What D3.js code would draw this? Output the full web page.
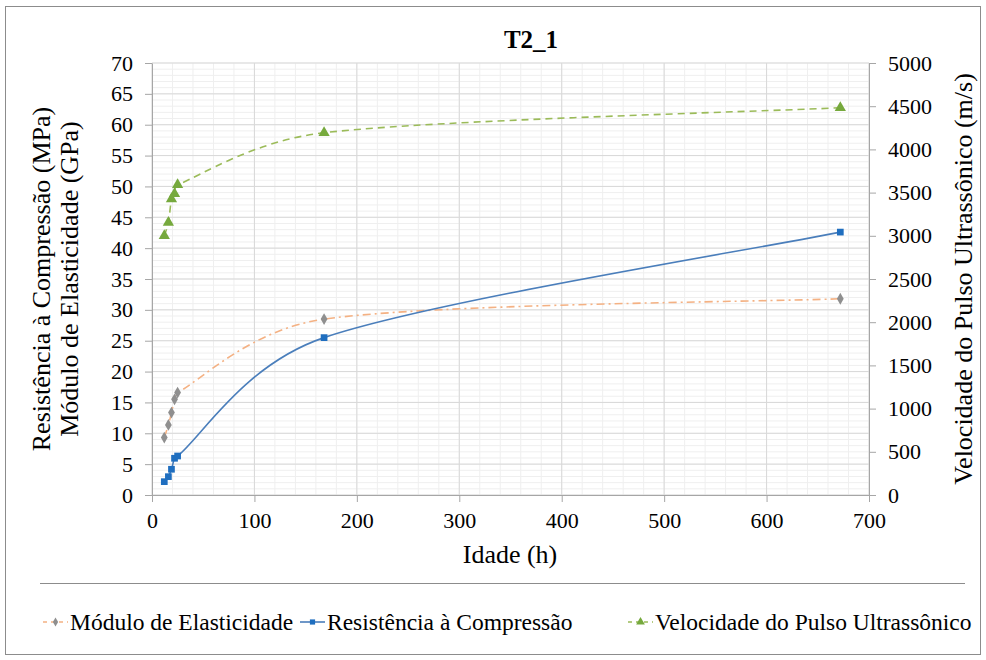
<!DOCTYPE html>
<html>
<head>
  <meta charset="utf-8">
  <script src="https://cdn.jsdelivr.net/npm/d3@7"></script>
  <style>
    @font-face { font-family: "ChartSerif"; src: local("Liberation Serif"), local("LiberationSerif"), local("Tinos"); }
    @font-face { font-family: "ChartSerif"; font-weight: bold; src: local("Liberation Serif Bold"), local("LiberationSerif-Bold"); }
  </style>
</head>
<body style="margin:0">
<script>
// dados
var idade = [12, 16, 19, 22, 25, 168, 672];
var modulo = [9.3, 11.35, 13.35, 15.5, 16.6, 28.5, 31.8];
var resistencia = [2.16, 2.97, 4.17, 5.95, 6.32, 25.5, 42.6];
var velocidade = [3000, 3154, 3425, 3486, 3590, 4193, 4482];

var xTicks = d3.range(0, 701, 100);
var yTicks = d3.range(0, 71, 5);
var y2Ticks = d3.range(0, 5001, 500);

var FONT = "'Times New Roman'";
var width = 986, height = 660;
var m = { left: 152, right: 869, top: 63, bottom: 495 };

var svg = d3.select("body").append("svg")
  .attr("width", width).attr("height", height);

// moldura
svg.append("rect")
  .attr("x", 5.5).attr("y", 6.5)
  .attr("width", 975).attr("height", 648)
  .attr("fill", "#fff").attr("stroke", "#8c8c8c");

var x = d3.scaleLinear().domain([0, 700]).range([m.left, m.right]);
var y = d3.scaleLinear().domain([0, 70]).range([m.bottom, m.top]);
var y2 = d3.scaleLinear().domain([0, 5000]).range([m.bottom, m.top]);

// grade secundária
var g = svg.append("g");
g.selectAll(".vmin").data(d3.range(0, 701, 20)).enter().append("line")
  .attr("x1", d => x(d)).attr("x2", d => x(d))
  .attr("y1", m.top).attr("y2", m.bottom)
  .attr("stroke", "#efefef");
g.selectAll(".hmin").data(d3.range(0, 71, 1)).enter().append("line")
  .attr("x1", m.left).attr("x2", m.right)
  .attr("y1", d => y(d)).attr("y2", d => y(d))
  .attr("stroke", "#efefef");
// grade principal
g.selectAll(".vmaj").data(xTicks).enter().append("line")
  .attr("x1", d => x(d)).attr("x2", d => x(d))
  .attr("y1", m.top).attr("y2", m.bottom)
  .attr("stroke", "#d9d9d9");
g.selectAll(".hmaj").data(yTicks).enter().append("line")
  .attr("x1", m.left).attr("x2", m.right)
  .attr("y1", d => y(d)).attr("y2", d => y(d))
  .attr("stroke", "#d9d9d9");

// eixos
var fmt = d3.format("d");
function styleAxis(sel) {
  sel.attr("font-family", FONT).attr("font-size", null);
  sel.selectAll("path, line").attr("stroke", "#a6a6a6");
  sel.selectAll("text").attr("font-family", FONT)
    .attr("font-size", "22px").attr("fill", "#000");
}
svg.append("g").attr("transform", "translate(0," + m.bottom + ")")
  .call(d3.axisBottom(x).tickValues(xTicks).tickFormat(fmt).tickSize(7).tickPadding(10).tickSizeOuter(0))
  .call(styleAxis);
svg.append("g").attr("transform", "translate(" + m.left + ",0)")
  .call(d3.axisLeft(y).tickValues(yTicks).tickFormat(fmt).tickSize(7).tickPadding(12).tickSizeOuter(0))
  .call(styleAxis);
svg.append("g").attr("transform", "translate(" + m.right + ",0)")
  .call(d3.axisRight(y2).tickValues(y2Ticks).tickFormat(fmt).tickSize(7).tickPadding(12).tickSizeOuter(0))
  .call(styleAxis);

// linha suavizada (tipo Excel): Catmull-Rom uniforme com alças limitadas
function smoothPath(p) {
  var path = d3.path();
  path.moveTo(p[0][0], p[0][1]);
  for (var i = 0; i < p.length - 1; i++) {
    var a = p[i], b = p[i + 1];
    var pr = p[i - 1] || a, nx = p[i + 2] || b;
    var L = Math.hypot(b[0] - a[0], b[1] - a[1]);
    var t0 = [(b[0] - pr[0]) / 6, (b[1] - pr[1]) / 6];
    var t1 = [(nx[0] - a[0]) / 6, (nx[1] - a[1]) / 6];
    [t0, t1].forEach(function(t) {
      var len = Math.hypot(t[0], t[1]);
      if (len > 0.45 * L) { var k = 0.45 * L / len; t[0] *= k; t[1] *= k; }
    });
    path.bezierCurveTo(a[0] + t0[0], a[1] + t0[1], b[0] - t1[0], b[1] - t1[1], b[0], b[1]);
  }
  return path.toString();
}

// séries
var series = [
  { name: "Módulo de Elasticidade", v: modulo, sc: y, line: "#f4b183", dash: "8,4,2,4", marker: "diamond", mcol: "#8f8f8f", ms: 40 },
  { name: "Resistência à Compressão", v: resistencia, sc: y, line: "#4a7ebb", dash: null, marker: "square", mcol: "#1f6ebf", ms: 45 },
  { name: "Velocidade do Pulso Ultrassônico", v: velocidade, sc: y2, line: "#9bbb59", dash: "7,5", marker: "triangle", mcol: "#76a93d", ms: 55 }
];
var sym = { diamond: d3.symbolDiamond, square: d3.symbolSquare, triangle: d3.symbolTriangle };

series.forEach(function(s) {
  var pts = idade.map((d, i) => [x(d), s.sc(s.v[i])]);
  svg.append("path")
    .attr("fill", "none")
    .attr("stroke", s.line)
    .attr("stroke-width", 1.6)
    .attr("stroke-dasharray", s.dash)
    .attr("d", smoothPath(pts));
  svg.append("g").selectAll("path").data(pts).enter().append("path")
    .attr("transform", d => "translate(" + d[0] + "," + d[1] + ")")
    .attr("d", d3.symbol().type(sym[s.marker]).size(s.ms))
    .attr("fill", s.mcol);
});

// títulos
function label(t, size) {
  return svg.append("text").attr("font-family", FONT)
    .attr("font-size", size + "px").attr("text-anchor", "middle").text(t);
}
label("T2_1", 25).attr("x", 531).attr("y", 48).attr("font-weight", "bold");
label("Idade (h)", 26).attr("x", 510).attr("y", 563);
label("Resistência à Compressão (MPa)", 26)
  .attr("transform", "translate(50," + (m.top + m.bottom) / 2 + ") rotate(-90)");
label("Módulo de Elasticidade (GPa)", 26)
  .attr("transform", "translate(78," + (m.top + m.bottom) / 2 + ") rotate(-90)");
label("Velocidade do Pulso Ultrassônico (m/s)", 26)
  .attr("transform", "translate(972," + (m.top + m.bottom) / 2 + ") rotate(-90)");

// separador da legenda
svg.append("line").attr("x1", 40).attr("x2", 965).attr("y1", 583.5).attr("y2", 583.5)
  .attr("stroke", "#8c8c8c");

// legenda
var legX = [43, 300, 628];
series.forEach(function(s, i) {
  var lg = svg.append("g").attr("transform", "translate(" + legX[i] + ",622)");
  lg.append("line").attr("x1", 0).attr("x2", 25).attr("y1", 0).attr("y2", 0)
    .attr("stroke", s.line).attr("stroke-width", 1.6).attr("stroke-dasharray", s.dash ? "4,4" : null);
  lg.append("path").attr("transform", "translate(12.5,0)")
    .attr("d", d3.symbol().type(sym[s.marker]).size(s.ms * 0.6)).attr("fill", s.mcol);
  lg.append("text").attr("font-family", FONT)
    .attr("font-size", "23.5px").attr("x", 27).attr("y", 8).text(s.name);
});
</script>
</body>
</html>
